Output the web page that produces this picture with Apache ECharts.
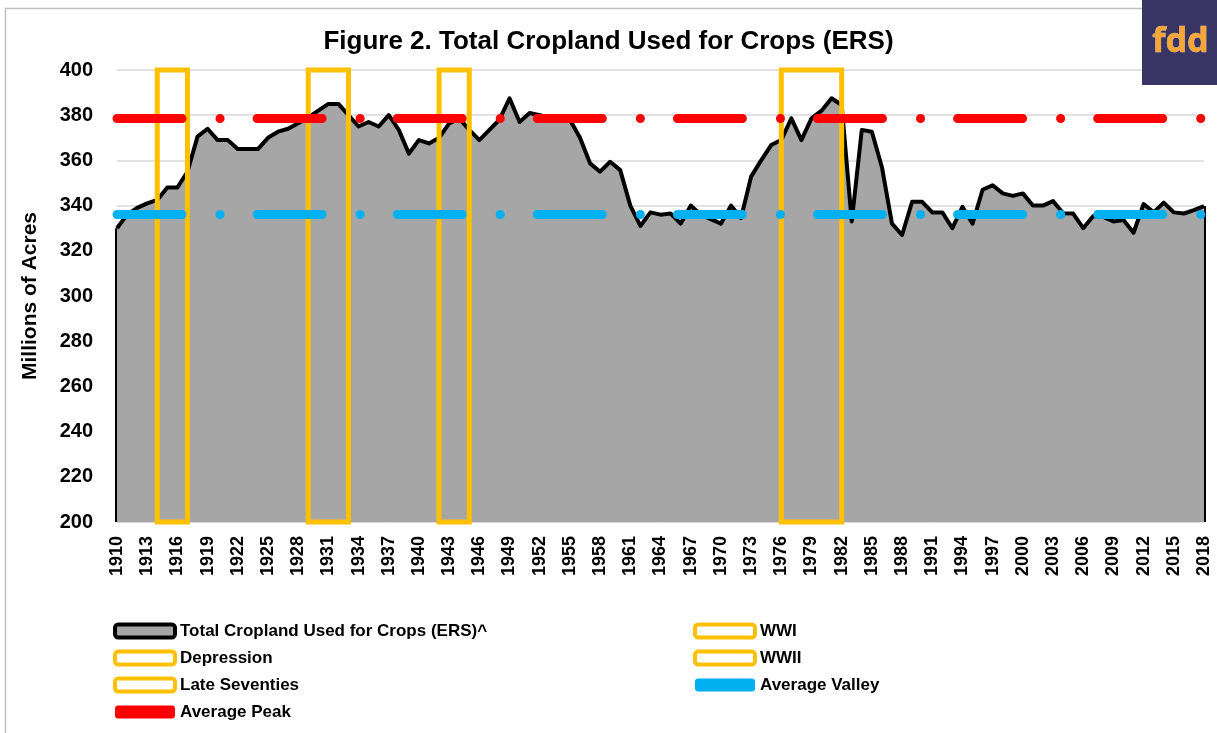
<!DOCTYPE html>
<html lang="en">
<head>
<meta charset="UTF-8">
<title>Figure 2. Total Cropland Used for Crops (ERS)</title>
<script src="https://cdn.jsdelivr.net/npm/echarts@6/dist/echarts.min.js"></script>
<style>
    html, body { margin: 0; padding: 0; background: #fff; }
    #container { width: 1217px; height: 733px; }
</style>
</head>
<body>
<div id="container"></div>
<script type="text/javascript">
    // years 1910 - 2018
    var years = [];
    for (var y = 1910; y <= 2018; y++) years.push(String(y));

    // total cropland used for crops, millions of acres
    var cropland = [
        330, 336, 339, 341, 342.5, 348, 348, 355, 370.5, 374,
        369, 369, 365, 365, 365, 370, 372.7, 374, 376.4, 379,
        382, 385, 385, 380, 375, 377, 375, 380, 373.5, 363,
        369, 367.5, 370, 376.4, 378.6, 373.5, 369, 373.5, 378, 387.5,
        377, 381, 380, 379, 379, 378, 370, 358.7, 355, 359.4,
        355.7, 340, 331, 337, 336, 336.5, 332, 340, 336, 334,
        332, 340, 334.5, 352.8, 360, 366.8, 369, 378.6, 369, 378.6,
        382, 387.5, 384.5, 333, 373.5, 372.7, 357, 332, 327, 341.7,
        341.7, 337, 337, 330, 339.5, 332, 347, 349, 345.4, 344.3,
        345.4, 340, 340, 342, 336.6, 336.5, 330, 335.4, 335, 333,
        333.6, 328, 340.7, 337, 341.3, 337, 336.5, 338, 339.8
    ];

    // highlighted periods
    var periodNames = ['WWI', 'Depression', 'WWII', 'Late Seventies'];
    var periodStart = ['1914', '1929', '1942', '1976'];
    var periodEnd = ['1917', '1933', '1945', '1982'];

    var avgPeak = 378.8;
    var avgValley = 336;

    var yMin = 200, yMax = 400, yStep = 20;

    var FONT = '"Liberation Sans", Arial, sans-serif';
    var YELLOW = '#FFC000';

    var dom = document.getElementById('container');
    var myChart = echarts.init(dom, null, { renderer: 'canvas' });

    var series = [];
    // main area series
    series.push({
        name: 'Total Cropland Used for Crops (ERS)^',
        type: 'line',
        data: cropland,
        showSymbol: false,
        z: 2,
        lineStyle: { color: '#000', width: 4, join: 'round' },
        itemStyle: { color: '#A6A6A6', borderColor: '#000' },
        areaStyle: { color: '#A6A6A6', opacity: 1 },
        markLine: {
            silent: true,
            symbol: 'none',
            z: 2,
            label: { show: false },
            lineStyle: { color: '#000', width: 4, type: 'solid' },
            data: [
                [{ coord: [years[0], yMin] }, { coord: [years[0], cropland[0]] }],
                [{ coord: [years[years.length - 1], yMin] }, { coord: [years[years.length - 1], cropland[cropland.length - 1]] }]
            ]
        }
    });
    // period boxes
    periodNames.forEach(function (name, i) {
        series.push({
            name: name,
            type: 'line',
            data: [],
            z: 3,
            itemStyle: { color: YELLOW },
            markArea: {
                silent: true,
                z: 3,
                label: { show: false },
                itemStyle: { color: 'rgba(0,0,0,0)', borderColor: YELLOW, borderWidth: 5 },
                data: [[{ xAxis: periodStart[i], yAxis: yMin }, { xAxis: periodEnd[i], yAxis: yMax }]]
            }
        });
    });
    // average lines
    function avgSeries(name, value, color) {
        return {
            name: name,
            type: 'line',
            data: [],
            z: 4,
            itemStyle: { color: color },
            markLine: {
                silent: true,
                symbol: 'none',
                z: 4,
                label: { show: false },
                lineStyle: { color: color, width: 9, type: [65, 38, 0.1, 37], cap: 'round' },
                data: [{ yAxis: value }]
            }
        };
    }
    series.push(avgSeries('Average Valley', avgValley, '#00B0F0'));
    series.push(avgSeries('Average Peak', avgPeak, '#FF0000'));

    var boxIcon = { color: '#fff', borderColor: YELLOW, borderWidth: 4 };
    var legendText = { fontFamily: FONT, fontSize: 17, fontWeight: 'bold', color: '#000', lineHeight: 20 };

    var option = {
        animation: false,
        backgroundColor: '#fff',
        title: {
            text: 'Figure 2. Total Cropland Used for Crops (ERS)',
            left: 'center',
            top: 24,
            textStyle: { fontFamily: FONT, fontSize: 26, fontWeight: 'bold', color: '#000' }
        },
        grid: { left: 117, right: 13, top: 70, bottom: 211 },
        legend: [
            {
                orient: 'vertical',
                left: 113, top: 621, padding: 0,
                itemWidth: 60, itemHeight: 13, itemGap: 7,
                textStyle: legendText,
                data: [
                    { name: 'Total Cropland Used for Crops (ERS)^', icon: 'roundRect', itemStyle: { color: '#A6A6A6', borderColor: '#000', borderWidth: 4 } },
                    { name: 'Depression', icon: 'roundRect', itemStyle: boxIcon },
                    { name: 'Late Seventies', icon: 'roundRect', itemStyle: boxIcon },
                    { name: 'Average Peak', icon: 'roundRect', itemStyle: { color: '#FF0000', borderWidth: 0 } }
                ]
            },
            {
                orient: 'vertical',
                left: 693, top: 621, padding: 0,
                itemWidth: 60, itemHeight: 13, itemGap: 7,
                textStyle: legendText,
                data: [
                    { name: 'WWI', icon: 'roundRect', itemStyle: boxIcon },
                    { name: 'WWII', icon: 'roundRect', itemStyle: boxIcon },
                    { name: 'Average Valley', icon: 'roundRect', itemStyle: { color: '#00B0F0', borderWidth: 0 } }
                ]
            }
        ],
        xAxis: {
            type: 'category',
            data: years,
            boundaryGap: false,
            axisTick: { show: false },
            axisLine: { lineStyle: { color: '#D9D9D9', width: 1 } },
            axisLabel: {
                interval: 2,
                rotate: 90,
                margin: 14,
                fontFamily: FONT, fontSize: 18, fontWeight: 'bold', color: '#000'
            },
            splitLine: { show: false }
        },
        yAxis: {
            type: 'value',
            min: yMin, max: yMax, interval: yStep,
            name: 'Millions of Acres',
            nameLocation: 'middle',
            nameGap: 76,
            nameTextStyle: { fontFamily: FONT, fontSize: 21, fontWeight: 'bold', color: '#000' },
            axisLine: { show: false },
            axisTick: { show: false },
            axisLabel: { margin: 24, fontFamily: FONT, fontSize: 20, fontWeight: 'bold', color: '#000' },
            splitLine: { lineStyle: { color: '#D9D9D9', width: 1.5 } }
        },
        graphic: [
            {
                type: 'rect', left: 3, top: 6, z: -10, silent: true,
                shape: { width: 1240, height: 760 },
                style: { fill: 'none', stroke: '#BFBFBF', lineWidth: 1.5 }
            },
            {
                type: 'rect', right: 0, top: 0, z: 100, zlevel: 1, silent: true,
                shape: { width: 75, height: 85 },
                style: { fill: '#383463' }
            },
            {
                type: 'text', left: 1152, top: 25, z: 101, zlevel: 1, silent: true,
                style: {
                    text: 'fdd', fill: '#F7A637', stroke: '#F9D9A8', lineWidth: 0.6,
                    font: 'bold 34px "Noto Sans", sans-serif'
                }
            }
        ],
        series: series
    };
    myChart.setOption(option);
    window.addEventListener('resize', myChart.resize);
</script>
</body>
</html>
